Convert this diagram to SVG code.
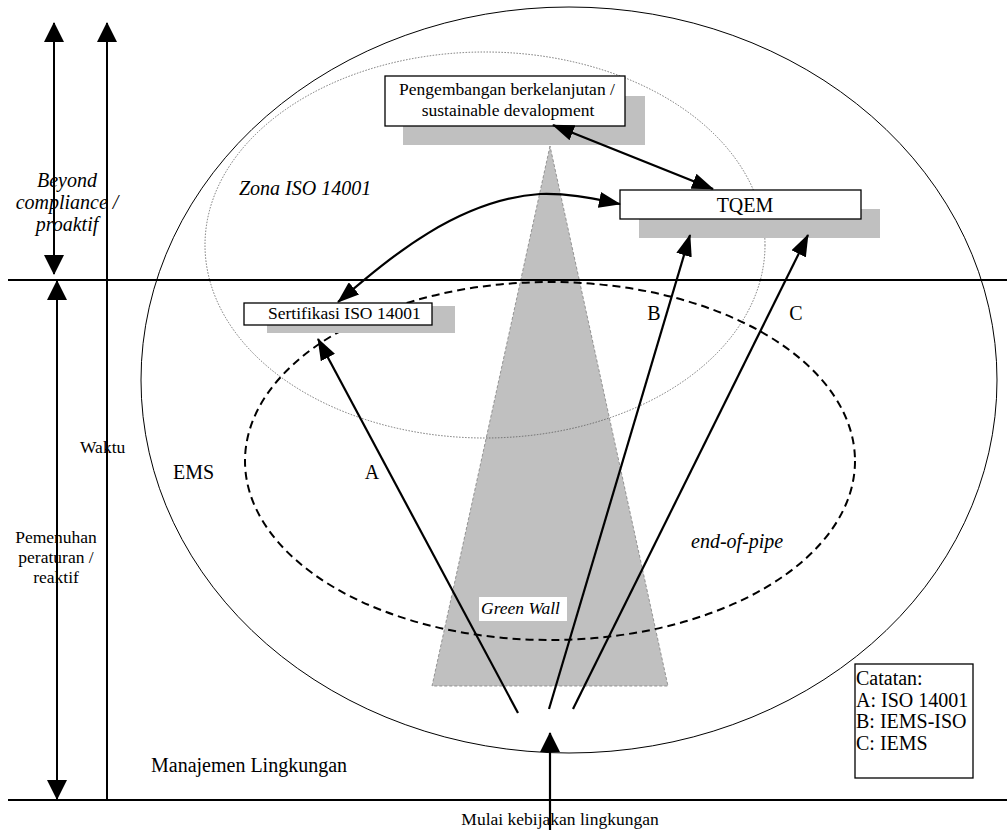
<svg xmlns="http://www.w3.org/2000/svg" width="1007" height="832" viewBox="0 0 1007 832">
<style>
text{font-family:"Liberation Serif","Times New Roman",serif;fill:#000}
.s{font-size:17.5px}
.m{font-size:20px}
.i{font-style:italic}
.c{text-anchor:middle}
.shadow{fill:#c0c0c0;stroke:none}
.box{fill:#fff;stroke:#000;stroke-width:1.3}
.ln{stroke:#000;stroke-width:2;fill:none}
.ar{stroke:#000;stroke-width:2.2;fill:none}
</style>
<defs>
<marker id="ah" viewBox="0 0 20 20" refX="19" refY="10" markerUnits="userSpaceOnUse" markerWidth="20" markerHeight="20" orient="auto-start-reverse">
<path d="M0,0 L20,10 L0,20 z" fill="#000"/>
</marker>
<marker id="ah2" viewBox="0 0 22 16" refX="21" refY="8" markerUnits="userSpaceOnUse" markerWidth="22" markerHeight="16" orient="auto-start-reverse">
<path d="M0,0 L22,8 L0,16 z" fill="#000"/>
</marker>
</defs>

<g id="green-wall">
<polygon points="550,146 432,686 668,686" fill="#c0c0c0" stroke="#808080" stroke-width="0.8" stroke-dasharray="3,2"/>
</g>

<g id="zones">
<ellipse id="manajemen-lingkungan" cx="569" cy="380" rx="428" ry="373" fill="none" stroke="#000" stroke-width="1"/>
<ellipse id="zona-iso" cx="485" cy="245" rx="280" ry="193" fill="none" stroke="#555" stroke-width="0.8" stroke-dasharray="1.5,1.5"/>
<ellipse id="ems" cx="550" cy="461" rx="305" ry="179" fill="none" stroke="#000" stroke-width="2" stroke-dasharray="8,5"/>
</g>

<g id="axes">
<line class="ln" x1="8" y1="280" x2="1007" y2="280"/>
<line class="ln" x1="8" y1="800" x2="1007" y2="800"/>
<line class="ln" x1="54" y1="23" x2="54" y2="274" marker-start="url(#ah)" marker-end="url(#ah)"/>
<line class="ln" x1="57" y1="281" x2="57" y2="799" marker-start="url(#ah)" marker-end="url(#ah)"/>
<line class="ln" x1="107" y1="800" x2="107" y2="23" marker-end="url(#ah)"/>
</g>

<g id="node-pengembangan">
<rect class="shadow" x="403" y="96" width="242" height="49"/>
<rect class="box" x="385" y="76" width="240" height="50"/>
<text class="s c" x="507" y="95">Pengembangan berkelanjutan /</text>
<text class="s c" x="508" y="116">sustainable devalopment</text>
</g>

<g id="node-tqem">
<rect class="shadow" x="639" y="209" width="241" height="29"/>
<rect class="box" x="620" y="190" width="241" height="29"/>
<text class="m c" x="745" y="212">TQEM</text>
</g>

<g id="node-sertifikasi">
<rect class="shadow" x="267" y="306" width="188" height="27"/>
<rect class="box" x="244" y="303" width="188" height="22"/>
<text class="s" x="268" y="319">Sertifikasi ISO 14001</text>
</g>

<g id="connectors">
<line class="ar" x1="518" y1="713" x2="318" y2="339" marker-end="url(#ah2)"/>
<line class="ar" x1="549" y1="709" x2="690" y2="235" marker-end="url(#ah2)"/>
<line class="ar" x1="573" y1="709" x2="808" y2="235" marker-end="url(#ah2)"/>
<line class="ar" x1="550" y1="830" x2="550" y2="733" marker-end="url(#ah)"/>
<line class="ar" x1="553" y1="125" x2="713" y2="189" marker-start="url(#ah2)" marker-end="url(#ah2)"/>
<path class="ar" d="M338,302 C385,262 455,200 540,194 C570,193 595,199 620,204" marker-start="url(#ah2)" marker-end="url(#ah2)"/>
</g>

<g id="label-green-wall">
<rect x="479" y="597" width="88" height="24" fill="#fff"/>
<text class="s i" x="481" y="614">Green Wall</text>
</g>

<g id="legend">
<rect x="855" y="664" width="118" height="114" fill="#fff" stroke="#000" stroke-width="1.3"/>
<text class="m" x="856" y="685">Catatan:</text>
<text class="m" x="856" y="707">A: ISO 14001</text>
<text class="m" x="856" y="728">B: IEMS-ISO</text>
<text class="m" x="856" y="750">C: IEMS</text>
</g>

<g id="labels">
<text class="m i c" x="67" y="187">Beyond</text>
<text class="m i c" x="67" y="209">compliance /</text>
<text class="m i c" x="67" y="231">proaktif</text>
<text class="s" x="80" y="453">Waktu</text>
<text class="s c" x="56" y="543">Pemenuhan</text>
<text class="s c" x="56" y="563">peraturan /</text>
<text class="s c" x="56" y="583">reaktif</text>
<text class="m i" x="239" y="195">Zona ISO 14001</text>
<text class="m" x="173" y="479">EMS</text>
<text class="m c" x="372" y="479">A</text>
<text class="m c" x="654" y="320">B</text>
<text class="m c" x="796" y="320">C</text>
<text class="m i" x="691" y="548">end-of-pipe</text>
<text class="m" x="151" y="772">Manajemen Lingkungan</text>
<text class="s c" x="560" y="825">Mulai kebijakan lingkungan</text>
</g>
</svg>
